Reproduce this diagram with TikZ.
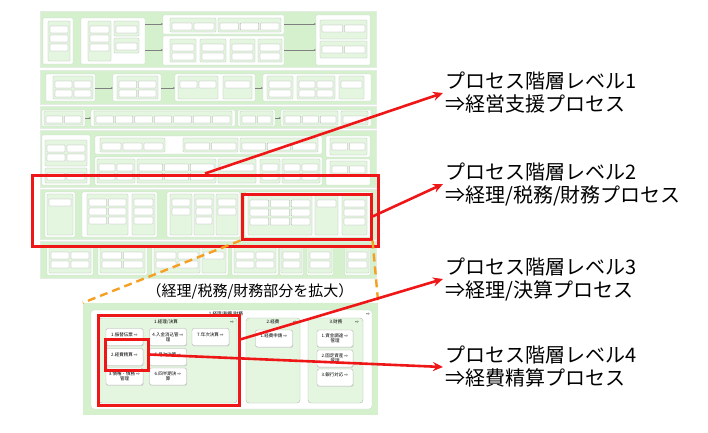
\documentclass[tikz,border=0pt]{standalone}
\usepackage{fontspec}
\setmainfont{Noto Sans CJK JP}
\newfontfamily\symfont{DejaVu Sans}
\usetikzlibrary{positioning,fit,calc,arrows.meta,shadows}
\definecolor{bandgreen}{RGB}{212,240,205}
\definecolor{subgreen}{RGB}{228,246,224}
\definecolor{edgegrey}{RGB}{175,190,175}
\definecolor{framered}{RGB}{238,22,22}
\definecolor{dashorange}{RGB}{245,160,35}

% green group with a grid of tiny process boxes
\newcommand{\procgroup}[6]{%
  \draw[gsub] (#1,#2) rectangle (#3,#4);
  \pgfmathsetmacro{\colw}{(#3-#1-2)/#5}
  \foreach \i in {1,...,#5}{
    \foreach \j in {1,...,#6}{
      \draw[tbox] ({#1+2+(\i-1)*\colw},{#2+5+(\j-1)*9}) rectangle ({#1+\i*\colw},{#2+12+(\j-1)*9});
    }
  }
}

\begin{document}
\begin{tikzpicture}[
    x=1pt, y=-1pt,
    band/.style={fill=bandgreen, draw=bandgreen!80!black!30, line width=0.3pt},
    wbox/.style={fill=white, draw=edgegrey!60, line width=0.3pt, rounded corners=1pt},
    gsub/.style={fill=subgreen, draw=edgegrey, line width=0.3pt, rounded corners=1pt},
    tbox/.style={fill=white, draw=gray!70, line width=0.25pt, rounded corners=0.5pt},
    flow/.style={-{Stealth[length=2pt,width=1.6pt]}, draw=gray, line width=0.3pt},
    zoombg/.style={fill=bandgreen, draw=none, inner sep=0pt},
    zsub/.style={fill=subgreen, draw=edgegrey, line width=0.4pt, rounded corners=3pt},
    cbox/.style={fill=white, draw=gray!60, line width=0.4pt, rounded corners=2pt,
                 drop shadow={shadow xshift=0.6pt, shadow yshift=-0.9pt, fill=gray!45},
                 minimum width=37pt, minimum height=17pt, inner sep=0.5pt,
                 align=center, font=\fontsize{4.5}{5}\selectfont},
    tinytxt/.style={inner sep=0pt, font=\fontsize{4.5}{5}\selectfont},
    redframe/.style={draw=framered, line width=3pt, inner sep=0pt},
    redarrow/.style={-{Stealth[length=10pt,width=9pt]}, draw=framered, line width=2.6pt},
    zoomline/.style={draw=dashorange, line width=2.4pt, dash pattern=on 8pt off 5pt},
    lvlabel/.style={anchor=west, align=left, inner sep=2pt, font=\fontsize{20}{23}\selectfont}
]
    \useasboundingbox (0,0) rectangle (708,432);

    % Overview - Band 1
    \draw[band] (40,11) rectangle (376,67);
    \draw[wbox] (43,18) rectangle (73,64);
    \procgroup{48}{21}{70}{61}{1}{3}
    \draw[wbox] (81,18) rectangle (145,64);
    \procgroup{88}{21}{111}{61}{1}{3}
    \procgroup{114}{21}{139}{36}{1}{1}
    \procgroup{114}{38}{139}{53}{1}{1}
    \draw[wbox] (163,15) rectangle (284,34);
    \procgroup{170}{18}{216}{32}{2}{1}
    \procgroup{218}{18}{281}{32}{3}{1}
    \draw[wbox] (163,36) rectangle (284,65);
    \procgroup{170}{39}{196}{62}{1}{2}
    \procgroup{200}{39}{226}{62}{1}{2}
    \procgroup{230}{39}{255}{62}{1}{2}
    \procgroup{258}{39}{282}{62}{1}{2}
    \draw[wbox] (316,15) rectangle (370,65);
    \procgroup{320}{20}{367}{39}{2}{1}
    \procgroup{320}{41}{367}{58}{2}{1}
    \draw[flow] (145,24) -- (163,24);
    \draw[flow] (145,50) -- (163,50);
    \draw[flow] (284,24) -- (316,24);
    \draw[flow] (284,50) -- (316,50);

    % Band 2
    \draw[band] (40,70) rectangle (376,104);
    \draw[wbox] (46,74) rectangle (95,101);
    \procgroup{53}{76}{93}{99}{2}{2}
    \draw[wbox] (113,74) rectangle (161,101);
    \procgroup{117}{76}{158}{99}{2}{2}
    \draw[wbox] (175,74) rectangle (255,101);
    \procgroup{178}{76}{218}{99}{2}{1}
    \procgroup{223}{76}{252}{99}{1}{1}
    \draw[wbox] (263,74) rectangle (371,101);
    \procgroup{267}{76}{293}{99}{1}{2}
    \procgroup{297}{76}{335}{99}{2}{2}
    \procgroup{339}{76}{364}{99}{1}{1}
    \draw[flow] (95,88) -- (113,88);
    \draw[flow] (161,88) -- (175,88);
    \draw[flow] (255,88) -- (263,88);

    % Band 3
    \draw[band] (40,106) rectangle (376,128);
    \draw[wbox] (42,110) rectangle (85,126);
    \procgroup{44}{111}{83}{125}{2}{1}
    \draw[wbox] (91,110) rectangle (235,126);
    \procgroup{94}{111}{232}{125}{7}{1}
    \draw[wbox] (238,110) rectangle (275,126);
    \procgroup{240}{111}{273}{125}{2}{1}
    \draw[wbox] (281,110) rectangle (371,126);
    \procgroup{283}{111}{338}{125}{3}{1}
    \procgroup{341}{111}{368}{125}{1}{1}
    \draw[flow] (85,118) -- (91,118);
    \draw[flow] (275,118) -- (281,118);

    % Band 4
    \draw[band] (40,130) rectangle (376,187);
    \draw[wbox] (42,135) rectangle (90,185);
    \procgroup{45}{140}{87}{166}{2}{2}
    \procgroup{45}{168}{87}{183}{2}{1}
    \draw[wbox] (95,136) rectangle (322,154);
    \procgroup{100}{138}{165}{152}{3}{1}
    \procgroup{183}{138}{238}{152}{2}{1}
    \procgroup{240}{138}{318}{152}{3}{1}
    \draw[wbox] (95,157) rectangle (322,185);
    \procgroup{97}{159}{135}{183}{2}{2}
    \procgroup{137}{159}{216}{183}{3}{2}
    \procgroup{218}{159}{256}{183}{1}{1}
    \procgroup{260}{159}{280}{183}{1}{2}
    \procgroup{282}{159}{320}{183}{2}{2}
    \draw[wbox] (326,136) rectangle (370,157);
    \procgroup{330}{138}{367}{155}{2}{1}
    \draw[wbox] (326,159) rectangle (370,185);
    \procgroup{330}{161}{367}{176}{2}{1}

    % Band 5
    \draw[band] (40,189) rectangle (376,239);
    \draw[wbox] (45,192) rectangle (75,237);
    \procgroup{47}{194}{73}{235}{1}{1}
    \draw[wbox] (82,192) rectangle (157,237);
    \procgroup{87}{194}{128}{235}{2}{3}
    \procgroup{132}{194}{155}{235}{1}{3}
    \draw[wbox] (167,192) rectangle (240,237);
    \procgroup{170}{194}{192}{235}{1}{2}
    \procgroup{194}{194}{214}{235}{1}{3}
    \procgroup{216}{194}{238}{235}{1}{2}
    \draw[wbox] (245,192) rectangle (372,237);
    \procgroup{248}{195}{312}{235}{3}{3}
    \procgroup{315}{195}{338}{235}{1}{1}
    \procgroup{342}{195}{367}{235}{1}{3}

    % Band 6
    \draw[band] (40,241) rectangle (376,278);
    \draw[wbox] (47,245) rectangle (93,275);
    \procgroup{49}{247}{91}{273}{2}{2}
    \draw[wbox] (98,245) rectangle (147,275);
    \procgroup{100}{247}{145}{273}{2}{2}
    \draw[wbox] (152,245) rectangle (228,275);
    \procgroup{154}{247}{200}{273}{2}{2}
    \procgroup{202}{247}{226}{273}{1}{1}
    \draw[wbox] (232,245) rectangle (278,275);
    \procgroup{234}{247}{276}{273}{2}{2}
    \draw[wbox] (280,245) rectangle (303,275);
    \procgroup{281}{247}{302}{273}{1}{2}
    \draw[wbox] (307,245) rectangle (333,275);
    \procgroup{308}{247}{332}{273}{1}{2}
    \draw[wbox] (345,245) rectangle (370,275);
    \procgroup{346}{247}{369}{273}{1}{2}

    % Frames on the overview
    \node[redframe, fit={(32,175)(378,246)}] (lvone) {};
    \node[redframe, fit={(242,194)(371,239)}] (lvtwo) {};

    % Zoomed part
    \node[zoombg, fit={(83,303)(378,415)}] (zpanel) {};
    \draw[wbox, rounded corners=3pt] (91,310) rectangle (372,409);
    \node[tinytxt] (ztitle) at (226,314) {1.経理/税務/財務};
    \node[tinytxt] at (368,314) {\symfont ⇨};
    \draw[zsub] (99,318) rectangle (237,403);
    \draw[zsub] (246,318) rectangle (300,403);
    \draw[zsub] (308,318) rectangle (363,403);
    \node[tinytxt] (tacc) at (166,322) {1.経理/決算};
    \node[tinytxt] at (232,322) {\symfont ⇨};
    \node[tinytxt] (texp) at (273,322) {2.経費};
    \node[tinytxt] at (295,322) {\symfont ⇨};
    \node[tinytxt] (tfin) at (336,322) {3.財務};
    \node[tinytxt] at (357,322) {\symfont ⇨};

    \node[cbox] (cone) at (124.5,337) {1.振替伝票 {\symfont ⇨}\\ \mbox{}};
    \node[cbox] (cfour) at (168,337) {4.入金消込管 {\symfont ⇨}\\理};
    \node[cbox] (cseven) at (210.5,337) {7.年次決算 {\symfont ⇨}\\ \mbox{}};
    \node[cbox] (ctwo) at (124.5,357) {2.経費精算 {\symfont ⇨}\\ \mbox{}};
    \node[cbox] (cfive) at (168,357) {5.月次決算 {\symfont ⇨}\\ \mbox{}};
    \node[cbox] (cthree) at (124.5,376.5) {3.債権・債務 {\symfont ⇨}\\管理};
    \node[cbox] (csix) at (168,376.5) {6.四半期決 {\symfont ⇨}\\算};
    \node[cbox] (eone) at (274,338.5) {1.経費申請 {\symfont ⇨}\\ \mbox{}};
    \node[cbox, minimum width=36pt] (fone) at (335,338.5) {1.資金調達 {\symfont ⇨}\\管理};
    \node[cbox, minimum width=36pt] (ftwo) at (335,358.5) {2.固定資産 {\symfont ⇨}\\管理};
    \node[cbox, minimum width=36pt] (fthree) at (335,377.5) {3.銀行対応 {\symfont ⇨}\\ \mbox{}};

    \node[redframe, fit={(98,315)(239,405)}] (lvthree) {};
    \node[redframe, fit={(105,339)(148,370)}] (lvfour) {};

    % Caption and level labels
    \node[font=\fontsize{15}{17}\selectfont] (capzoom) at (250,291) {（経理/税務/財務部分を拡大）};
    \node[lvlabel] (lblone) at (443,93) {プロセス階層レベル1\\⇒経営支援プロセス};
    \node[lvlabel] (lbltwo) at (443,184) {プロセス階層レベル2\\⇒経理/税務/財務プロセス};
    \node[lvlabel] (lblthree) at (443,279) {プロセス階層レベル3\\⇒経理/決算プロセス};
    \node[lvlabel] (lblfour) at (443,367) {プロセス階層レベル4\\⇒経費精算プロセス};

    % Connections
    \draw[zoomline] (lvtwo.south west) -- (zpanel.north west);
    \draw[zoomline] (lvtwo.south east) -- (zpanel.north east);
    \draw[redarrow] (lvone.north) -- (lblone.west);
    \draw[redarrow] (lvtwo.east) -- (lbltwo.west);
    \draw[redarrow] (lvthree.16) -- (lblthree.west);
    \draw[redarrow] (lvfour.east) -- (lblfour.west);

\end{tikzpicture}
\end{document}
